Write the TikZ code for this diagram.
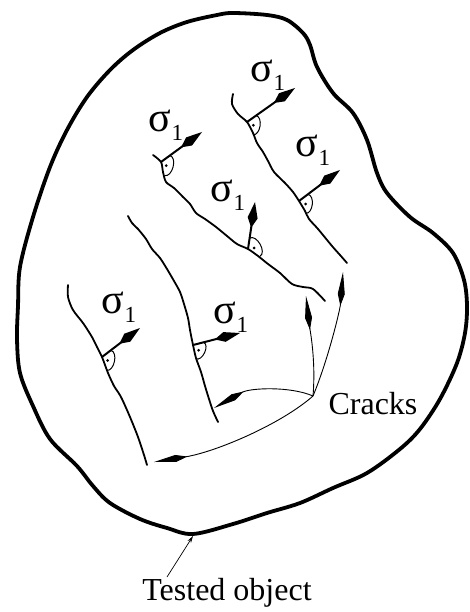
\documentclass[tikz,border=0pt]{standalone}
\usepackage{fontspec}
\setmainfont{Liberation Serif}
\usetikzlibrary{arrows.meta,calc}
\newcommand\rmark[3]{%
  \draw[markline] ($(#1)!11pt!(#2)$) to[bend left=90] ($(#1)!14pt!(#3)$);
  \fill ($(#1)!4.5pt!(#2) + (#1)!6.5pt!(#3) - (#1)$) circle[radius=1.5pt];}
\newcommand\sig{σ\raisebox{-0.22em}{\fontsize{23}{23}\selectfont 1}}
\begin{document}
\begin{tikzpicture}[x=1pt,y=-1pt,
  outline/.style={line width=3.8pt,line join=round},
  crackline/.style={line width=1.8pt,line cap=round,line join=round},
  sigarrow/.style={line width=2pt,-{Kite[length=26pt,width=10pt,inset=10pt]}},
  leader/.style={line width=0.9pt,-{Kite[length=34pt,width=7pt,inset=12pt]}},
  thinleader/.style={line width=0.7pt,-{Stealth[length=7pt,width=4pt]}},
  markline/.style={line width=1pt},
  lbl/.style={font=\fontsize{32}{36}\selectfont, inner sep=0pt},
  siglbl/.style={font=\fontsize{42}{44}\selectfont, inner sep=0pt}]
\useasboundingbox (0,0) rectangle (470,612);

% tested object outline
\draw[outline] plot[smooth cycle, tension=0.55] coordinates {
 (133,50) (160,33) (187,22) (217,15) (233,13) (267,15) (287,20) (303,33) (310,45)
 (317,67) (333,93) (353,113) (367,140) (377,173) (387,193) (410,217) (433,233)
 (453,253) (464,280) (467,306) (465,333) (457,363) (440,399) (420,429) (400,449)
 (367,473) (333,488) (300,503) (267,513) (233,524) (193,534) (167,528) (140,519)
 (110,503) (93,486) (77,466) (50,439) (33,406) (20,373) (17,339) (18,306) (20,267)
 (33,217) (50,167) (67,130) (87,97) (110,70)};
\coordinate (objpt) at (193,536);

% cracks
\draw[crackline] plot[smooth, tension=0.5] coordinates {
 (233,94) (232,104) (238,114) (247,122) (253,133) (257,143) (263,152) (268,161)
 (274,172) (285,183) (293,192) (299,201) (305,211) (309,219) (318,229) (332,246)
 (340,255) (347,263)};
\draw[crackline] plot[smooth, tension=0.5] coordinates {
 (153,155) (161,162) (163,172) (166,182) (174,188) (183,197) (190,204) (196,213)
 (205,219) (216,227) (227,236) (237,244) (248,249) (258,256) (268,264) (280,273)
 (292,284) (303,287) (313,289) (325,301)};
\draw[crackline] plot[smooth, tension=0.5] coordinates {
 (128,216) (132,223) (138,229) (146,239) (152,249) (160,258) (167,269) (174,281)
 (180,292) (184,304) (188,318) (190,330) (193,345) (196,358) (201,372) (205,386)
 (209,399) (213,411) (218,422)};
\draw[crackline] plot[smooth, tension=0.5] coordinates {
 (68,285) (68,297) (73,310) (83,323) (92,337) (97,347) (102,357) (108,373)
 (114,386) (118,392) (122,399) (130,417) (138,437) (144,455) (147,465)};

% arrow bases, tips and crack directions
\coordinate (a1) at (247,122); \coordinate (a1t) at (295,88);  \coordinate (a1c) at (254,137);
\coordinate (a2) at (299,201); \coordinate (a2t) at (340,170); \coordinate (a2c) at (306,214);
\coordinate (b1) at (161,162); \coordinate (b1t) at (202,132); \coordinate (b1c) at (165,178);
\coordinate (b2) at (248,249); \coordinate (b2t) at (255,202); \coordinate (b2c) at (261,257);
\coordinate (c1) at (193,345); \coordinate (c1t) at (240,333); \coordinate (c1c) at (196,360);
\coordinate (d1) at (102,357); \coordinate (d1t) at (140,328); \coordinate (d1c) at (107,372);

\foreach \p in {a1,a2,b1,b2,c1,d1}{
  \draw[sigarrow] (\p) -- (\p t);
  \rmark{\p}{\p t}{\p c}
}

% sigma labels
\node[siglbl] (s1) at (268,75)  {\sig};
\node[siglbl] (s2) at (166,125) {\sig};
\node[siglbl] (s3) at (313,150) {\sig};
\node[siglbl] (s4) at (228,195) {\sig};
\node[siglbl] (s5) at (119,307) {\sig};
\node[siglbl] (s6) at (231,317) {\sig};

% Cracks label and leaders
\node[lbl] (cracks) at (373,404) {Cracks};
\coordinate (J) at (313,396);
\coordinate (L1) at (306,296);
\coordinate (L2) at (343,272);
\coordinate (L3) at (214,408);
\coordinate (L4) at (154,462);
\draw[leader] (J) .. controls (316,360) and (310,330) .. (L1);
\draw[leader] (J) .. controls (328,360) and (340,310) .. (L2);
\draw[leader] (J) .. controls (290,386) and (250,388) .. (L3);
\draw[leader] (J) .. controls (280,425) and (215,452) .. (L4);

% Tested object label
\node[lbl] (obj) at (227,593) {Tested object};
\coordinate (objtail) at (167,577);
\draw[thinleader] (objtail) -- (objpt);
\end{tikzpicture}
\end{document}
